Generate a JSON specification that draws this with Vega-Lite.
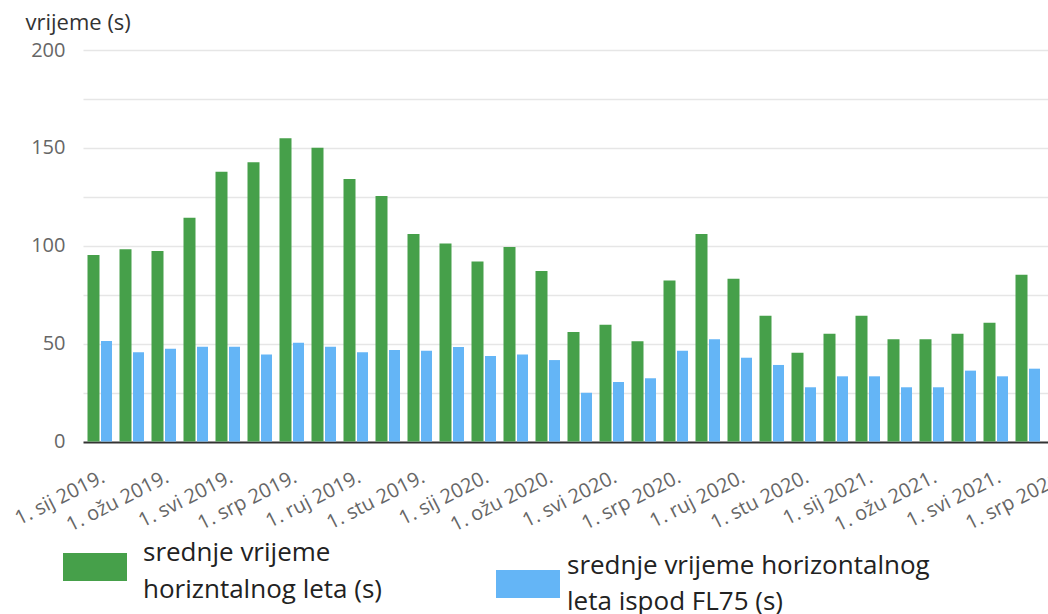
{
  "$schema": "https://vega.github.io/schema/vega-lite/v6.json",
  "width": 960,
  "height": 391.5,
  "autosize": {"type": "none"},
  "padding": {"left": 83, "top": 50, "right": 5, "bottom": 172.5},
  "background": "white",
  "config": {"view": {"stroke": null}, "font": "Open Sans"},
  "data": {"values": [
    {"month": "1. sij 2019.", "series": "A", "value": 95.3},
    {"month": "1. velj 2019.", "series": "A", "value": 98.2},
    {"month": "1. ožu 2019.", "series": "A", "value": 97.3},
    {"month": "1. tra 2019.", "series": "A", "value": 114.3},
    {"month": "1. svi 2019.", "series": "A", "value": 137.8},
    {"month": "1. lip 2019.", "series": "A", "value": 142.6},
    {"month": "1. srp 2019.", "series": "A", "value": 154.9},
    {"month": "1. kol 2019.", "series": "A", "value": 150.1},
    {"month": "1. ruj 2019.", "series": "A", "value": 134.1},
    {"month": "1. lis 2019.", "series": "A", "value": 125.4},
    {"month": "1. stu 2019.", "series": "A", "value": 106.0},
    {"month": "1. pro 2019.", "series": "A", "value": 101.2},
    {"month": "1. sij 2020.", "series": "A", "value": 91.9},
    {"month": "1. velj 2020.", "series": "A", "value": 99.4},
    {"month": "1. ožu 2020.", "series": "A", "value": 87.1},
    {"month": "1. tra 2020.", "series": "A", "value": 55.9},
    {"month": "1. svi 2020.", "series": "A", "value": 59.7},
    {"month": "1. lip 2020.", "series": "A", "value": 51.2},
    {"month": "1. srp 2020.", "series": "A", "value": 82.3},
    {"month": "1. kol 2020.", "series": "A", "value": 106.0},
    {"month": "1. ruj 2020.", "series": "A", "value": 83.2},
    {"month": "1. lis 2020.", "series": "A", "value": 64.3},
    {"month": "1. stu 2020.", "series": "A", "value": 45.4},
    {"month": "1. pro 2020.", "series": "A", "value": 55.1},
    {"month": "1. sij 2021.", "series": "A", "value": 64.3},
    {"month": "1. velj 2021.", "series": "A", "value": 52.2},
    {"month": "1. ožu 2021.", "series": "A", "value": 52.2},
    {"month": "1. tra 2021.", "series": "A", "value": 55.1},
    {"month": "1. svi 2021.", "series": "A", "value": 60.7},
    {"month": "1. lip 2021.", "series": "A", "value": 85.2},
    {"month": "1. sij 2019.", "series": "B", "value": 51.3},
    {"month": "1. velj 2019.", "series": "B", "value": 45.6},
    {"month": "1. ožu 2019.", "series": "B", "value": 47.4},
    {"month": "1. tra 2019.", "series": "B", "value": 48.4},
    {"month": "1. svi 2019.", "series": "B", "value": 48.4},
    {"month": "1. lip 2019.", "series": "B", "value": 44.5},
    {"month": "1. srp 2019.", "series": "B", "value": 50.5},
    {"month": "1. kol 2019.", "series": "B", "value": 48.4},
    {"month": "1. ruj 2019.", "series": "B", "value": 45.6},
    {"month": "1. lis 2019.", "series": "B", "value": 46.7},
    {"month": "1. stu 2019.", "series": "B", "value": 46.4},
    {"month": "1. pro 2019.", "series": "B", "value": 48.3},
    {"month": "1. sij 2020.", "series": "B", "value": 43.7},
    {"month": "1. velj 2020.", "series": "B", "value": 44.5},
    {"month": "1. ožu 2020.", "series": "B", "value": 41.6},
    {"month": "1. tra 2020.", "series": "B", "value": 24.9},
    {"month": "1. svi 2020.", "series": "B", "value": 30.4},
    {"month": "1. lip 2020.", "series": "B", "value": 32.3},
    {"month": "1. srp 2020.", "series": "B", "value": 46.4},
    {"month": "1. kol 2020.", "series": "B", "value": 52.2},
    {"month": "1. ruj 2020.", "series": "B", "value": 42.8},
    {"month": "1. lis 2020.", "series": "B", "value": 39.1},
    {"month": "1. stu 2020.", "series": "B", "value": 27.7},
    {"month": "1. pro 2020.", "series": "B", "value": 33.3},
    {"month": "1. sij 2021.", "series": "B", "value": 33.3},
    {"month": "1. velj 2021.", "series": "B", "value": 27.7},
    {"month": "1. ožu 2021.", "series": "B", "value": 27.7},
    {"month": "1. tra 2021.", "series": "B", "value": 36.2},
    {"month": "1. svi 2021.", "series": "B", "value": 33.3},
    {"month": "1. lip 2021.", "series": "B", "value": 37.2}
  ]},
  "encoding": {
    "x": {
      "field": "month",
      "type": "ordinal",
      "scale": {
        "domain": ["1. sij 2019.", "1. velj 2019.", "1. ožu 2019.", "1. tra 2019.", "1. svi 2019.", "1. lip 2019.", "1. srp 2019.", "1. kol 2019.", "1. ruj 2019.", "1. lis 2019.", "1. stu 2019.", "1. pro 2019.", "1. sij 2020.", "1. velj 2020.", "1. ožu 2020.", "1. tra 2020.", "1. svi 2020.", "1. lip 2020.", "1. srp 2020.", "1. kol 2020.", "1. ruj 2020.", "1. lis 2020.", "1. stu 2020.", "1. pro 2020.", "1. sij 2021.", "1. velj 2021.", "1. ožu 2021.", "1. tra 2021.", "1. svi 2021.", "1. lip 2021.", "1. srp 2021."],
        "range": [0, 992],
        "paddingInner": 0,
        "paddingOuter": 0
      },
      "axis": {
        "title": null,
        "values": ["1. sij 2019.", "1. ožu 2019.", "1. svi 2019.", "1. srp 2019.", "1. ruj 2019.", "1. stu 2019.", "1. sij 2020.", "1. ožu 2020.", "1. svi 2020.", "1. srp 2020.", "1. ruj 2020.", "1. stu 2020.", "1. sij 2021.", "1. ožu 2021.", "1. svi 2021.", "1. srp 2021."],
        "labelAngle": -27,
        "labelAlign": "right",
        "labelBaseline": "top",
        "labelPadding": 25,
        "labelFontSize": 20,
        "labelColor": "#666666",
        "ticks": false,
        "domain": false,
        "grid": false,
        "labelOverlap": false,
        "labelFlush": false
      }
    },
    "y": {
      "field": "value",
      "type": "quantitative",
      "scale": {"domain": [0, 200], "nice": false},
      "axis": {
        "title": "vrijeme (s)",
        "titleAngle": 0,
        "titleAlign": "left",
        "titleBaseline": "middle",
        "titleX": -58,
        "titleY": -28,
        "titleFontSize": 22,
        "titleFontWeight": "normal",
        "titleColor": "#333333",
        "values": [0, 25, 50, 75, 100, 125, 150, 175, 200],
        "labelExpr": "datum.value % 50 === 0 ? datum.label : ''",
        "domain": false,
        "ticks": false,
        "labelPadding": 18,
        "labelFontSize": 20,
        "labelColor": "#666666",
        "gridColor": {"condition": {"test": "datum.value === 0", "value": "#333333"}, "value": "#e6e6e6"},
        "gridWidth": {"condition": {"test": "datum.value === 0", "value": 2}, "value": 1.5}
      }
    }
  },
  "layer": [
    {
      "transform": [{"filter": "datum.series === 'A'"}],
      "mark": {"type": "bar", "width": 12, "xOffset": -5.5},
      "encoding": {
        "color": {
          "field": "series",
          "type": "nominal",
          "scale": {"domain": ["A"], "range": ["#46A04A"]},
          "legend": {
            "orient": "none",
            "legendX": -20,
            "legendY": 485,
            "title": null,
            "padding": 0,
            "symbolType": "M-1,-0.44L1,-0.44L1,0.44L-1,0.44Z",
            "symbolSize": 4096,
            "symbolStrokeWidth": 0,
            "symbolFillColor": "#22B14C",
            "labelFont": "Open Sans",
            "labelFontSize": 26,
            "labelColor": "#222222",
            "labelLimit": 600,
            "labelOffset": 16,
            "labelExpr": "['srednje vrijeme', 'horizntalnog leta (s)']",
            "encode": {
              "symbols": {"update": {"fill": {"value": "#22B14C"}, "opacity": {"value": 1}}},
              "labels": {"update": {"lineHeight": {"value": 37}, "dy": {"value": -14}}}
            }
          }
        }
      }
    },
    {
      "transform": [{"filter": "datum.series === 'B'"}],
      "mark": {"type": "bar", "width": 11, "xOffset": 7.5},
      "encoding": {
        "color": {
          "field": "series",
          "type": "nominal",
          "scale": {"domain": ["B"], "range": ["#64B5F6"]},
          "legend": {
            "orient": "none",
            "legendX": 413,
            "legendY": 502,
            "title": null,
            "padding": 0,
            "symbolType": "M-1,-0.44L1,-0.44L1,0.44L-1,0.44Z",
            "symbolSize": 4096,
            "symbolStrokeWidth": 0,
            "symbolFillColor": "#00A2E8",
            "labelFont": "Open Sans",
            "labelFontSize": 26,
            "labelColor": "#222222",
            "labelLimit": 600,
            "labelOffset": 7,
            "labelExpr": "['srednje vrijeme horizontalnog', 'leta ispod FL75 (s)']",
            "encode": {
              "symbols": {"update": {"fill": {"value": "#00A2E8"}, "opacity": {"value": 1}}},
              "labels": {"update": {"lineHeight": {"value": 36}, "dy": {"value": -18}}}
            }
          }
        }
      }
    }
  ],
  "resolve": {"scale": {"color": "independent"}}
}
